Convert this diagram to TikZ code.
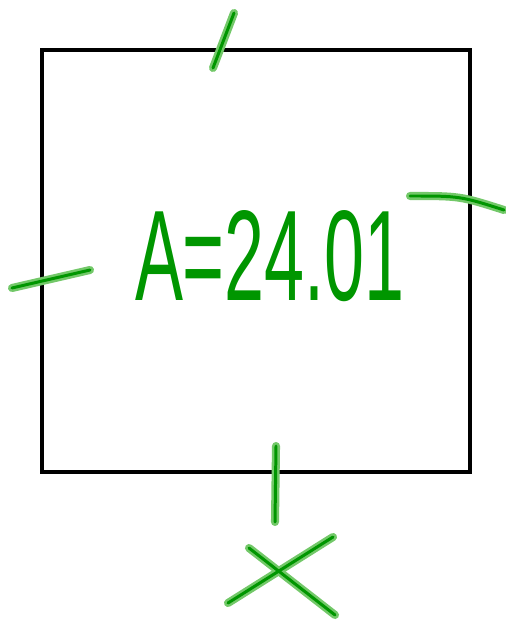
\documentclass[tikz,border=0pt]{standalone}
\usepackage{graphicx}
\usepackage{fontspec}
\setmainfont{Liberation Sans}
\usetikzlibrary{positioning}

\definecolor{inkgreen}{RGB}{0,150,0}
\definecolor{halogreen}{RGB}{115,200,105}

\begin{document}
\begin{tikzpicture}[
    x=0.02cm, y=-0.02cm,
    box/.style={rectangle, draw=black, line width=2.3pt, minimum width=8.56cm, minimum height=8.44cm, inner sep=0pt},
    halo/.style={draw=halogreen, line width=4.6pt, line cap=round, line join=round},
    pen/.style={draw=inkgreen, line width=1.7pt, line cap=round, line join=round},
    area/.style={text=inkgreen, inner sep=0pt}
]
\useasboundingbox (0,0) rectangle (506,621);

% Square
\node[box] (sq) at (256,261) {};

% Area label
\node[area] (area) at (270,256) {\resizebox{5.4cm}{1.8cm}{A=24.01}};

% Tick marks on the sides
\foreach \s in {halo, pen} {
  \draw[\s] (213,68) -- (234,13);
  \draw[\s] (410,196) .. controls (460,196) .. (504,210);
  \draw[\s] (12,288) -- (90,270);
  \draw[\s] (276,446) -- (275,522);
  % Cross below
  \draw[\s] (228,603) -- (333,537);
  \draw[\s] (249,548) -- (335,615);
}

\end{tikzpicture}
\end{document}
